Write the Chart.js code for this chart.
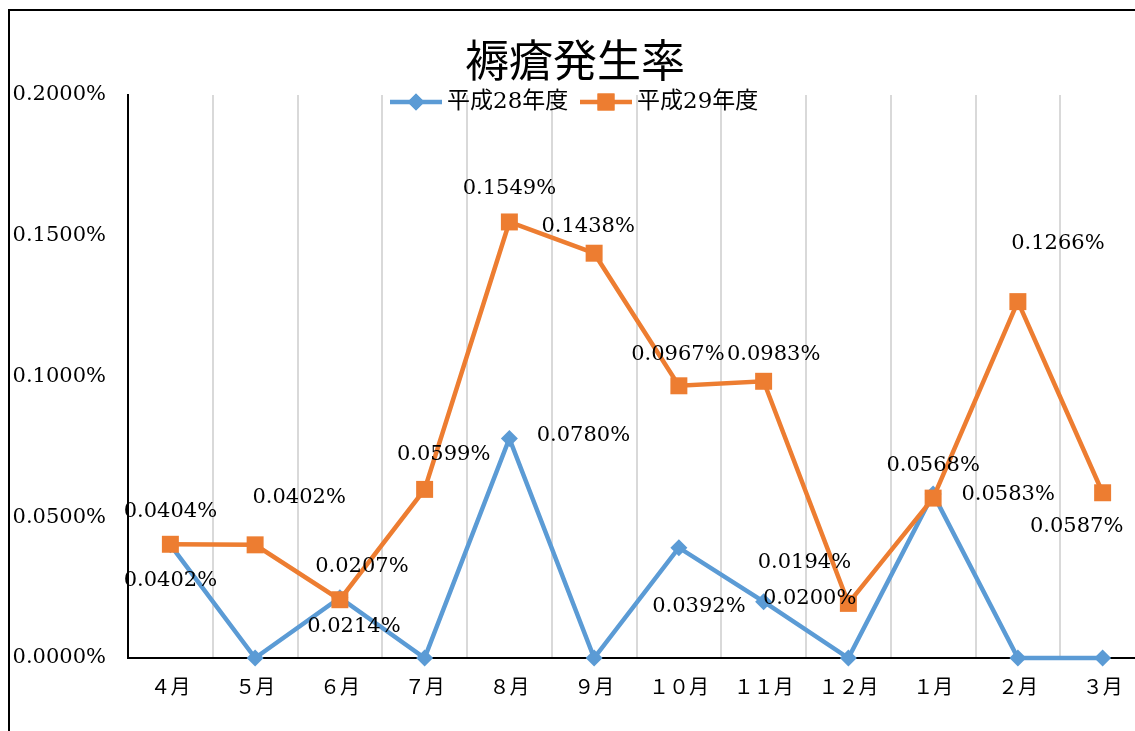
<!DOCTYPE html>
<html lang="ja">
<head>
<meta charset="utf-8">
<title>褥瘡発生率</title>
<script src="https://cdn.jsdelivr.net/npm/chart.js@4.4.1/dist/chart.umd.min.js"></script>
<style>
html, body { margin: 0; padding: 0; background: #fff; overflow: hidden; }
#wrap { position: relative; width: 1135px; height: 731px; overflow: hidden; }
#frame { position: absolute; left: 8px; top: 9px; width: 2000px; height: 2000px; border-left: 2px solid #000; border-top: 2px solid #000; }
#chart { position: absolute; left: 0; top: 0; }
</style>
</head>
<body>
<div id="wrap">
  <div id="frame"></div>
  <canvas id="chart" width="1157" height="731"></canvas>
</div>
<script>
// --- データ ---
const chartTitle = '褥瘡発生率';
const months = ['４月', '５月', '６月', '７月', '８月', '９月', '１０月', '１１月', '１２月', '１月', '２月', '３月'];
const seriesNames = ['平成28年度', '平成29年度'];
const h28 = [0.0402, 0, 0.0214, 0, 0.0780, 0, 0.0392, 0.0200, 0, 0.0583, 0, 0];
const h29 = [0.0404, 0.0402, 0.0207, 0.0599, 0.1549, 0.1438, 0.0967, 0.0983, 0.0194, 0.0568, 0.1266, 0.0587];
const yMax = 0.2;
const yStep = 0.05;

// ラベル位置 (点からのずれ, px)。null はラベルなし
const h28LabelOffset = [[0, 36], null, [14, 29], null, [74, -3], null, [20, 59], [46, -3], null, [75, 1], null, null];
const h29LabelOffset = [[0, -33], [44, -47], [22, -33], [19, -35], [0, -33], [-6, -27], [-1, -31], [10, -27], [-44, -41], [0, -33], [40, -58], [-26, 34]];

const BLUE = '#5B9BD5';
const ORANGE = '#ED7D31';
const SERIF = '"DejaVu Serif", "Noto Sans CJK JP", serif';
const fmt = v => v.toFixed(4) + '%';

// --- タイトル・凡例・データラベル ---
const decorPlugin = {
    id: 'decor',
    afterDatasetsDraw(chart) {
        const ctx = chart.ctx;
        ctx.save();
        ctx.fillStyle = '#000';
        ctx.textAlign = 'center';
        ctx.textBaseline = 'middle';
        ctx.font = '21px ' + SERIF;
        chart.data.datasets.forEach((ds, di) => {
            const meta = chart.getDatasetMeta(di);
            meta.data.forEach((pt, i) => {
                const off = ds.labelOffset[i];
                if (!off) return;
                ctx.fillText(fmt(ds.data[i]), pt.x + off[0], pt.y + off[1]);
            });
        });
        ctx.restore();
    },
    afterDraw(chart) {
        const ctx = chart.ctx;
        ctx.save();
        ctx.fillStyle = '#000';
        ctx.textBaseline = 'middle';
        ctx.textAlign = 'center';
        ctx.font = '44px "Noto Sans CJK JP", sans-serif';
        ctx.fillText(chartTitle, 575, 60);

        // 凡例
        const items = [
            { x: 390, color: BLUE, style: 'rectRot', r: 8.5, text: seriesNames[0] },
            { x: 580, color: ORANGE, style: 'rect', r: 12, text: seriesNames[1] }
        ];
        const ly = 102;
        ctx.font = '23px ' + SERIF;
        ctx.textAlign = 'left';
        items.forEach(it => {
            ctx.strokeStyle = it.color;
            ctx.lineWidth = 4.5;
            ctx.beginPath();
            ctx.moveTo(it.x, ly);
            ctx.lineTo(it.x + 52, ly);
            ctx.stroke();
            ctx.fillStyle = it.color;
            Chart.helpers.drawPoint(ctx, { pointStyle: it.style, radius: it.r, rotation: 0, borderWidth: 0 }, it.x + 26, ly);
            ctx.fill();
            ctx.fillStyle = '#000';
            ctx.fillText(it.text, it.x + 57, ly);
        });
        ctx.restore();
    }
};

new Chart(document.getElementById('chart'), {
    type: 'line',
    data: {
        labels: months,
        datasets: [
            {
                label: seriesNames[0],
                data: h28,
                labelOffset: h28LabelOffset,
                borderColor: BLUE,
                backgroundColor: BLUE,
                borderWidth: 4.5,
                pointStyle: 'rectRot',
                pointRadius: 8.5,
                pointBorderWidth: 0,
                tension: 0,
                clip: false,
                order: 2
            },
            {
                label: seriesNames[1],
                data: h29,
                labelOffset: h29LabelOffset,
                borderColor: ORANGE,
                backgroundColor: ORANGE,
                borderWidth: 4.5,
                pointStyle: 'rect',
                pointRadius: 12,
                pointBorderWidth: 0,
                tension: 0,
                clip: false,
                order: 1
            }
        ]
    },
    options: {
        responsive: false,
        animation: false,
        layout: { padding: { top: 95, left: 0, right: 0, bottom: 0 } },
        plugins: {
            legend: { display: false },
            title: { display: false },
            tooltip: { enabled: false }
        },
        scales: {
            x: {
                offset: true,
                grid: { offset: true, color: '#D9D9D9', lineWidth: 2, drawTicks: false },
                border: { display: true, color: '#000', width: 2 },
                ticks: { color: '#000', font: { family: SERIF, size: 20 }, padding: 19, maxRotation: 0, autoSkip: false },
                afterFit: s => { s.height = 73; }
            },
            y: {
                min: 0,
                max: yMax,
                grid: { display: false, drawTicks: false },
                border: { display: true, color: '#000', width: 2 },
                ticks: {
                    stepSize: yStep,
                    color: '#000',
                    font: { family: SERIF, size: 21 },
                    padding: 22,
                    callback: v => fmt(v)
                },
                afterFit: s => { s.width = 128; }
            }
        }
    },
    plugins: [decorPlugin]
});
</script>
</body>
</html>
